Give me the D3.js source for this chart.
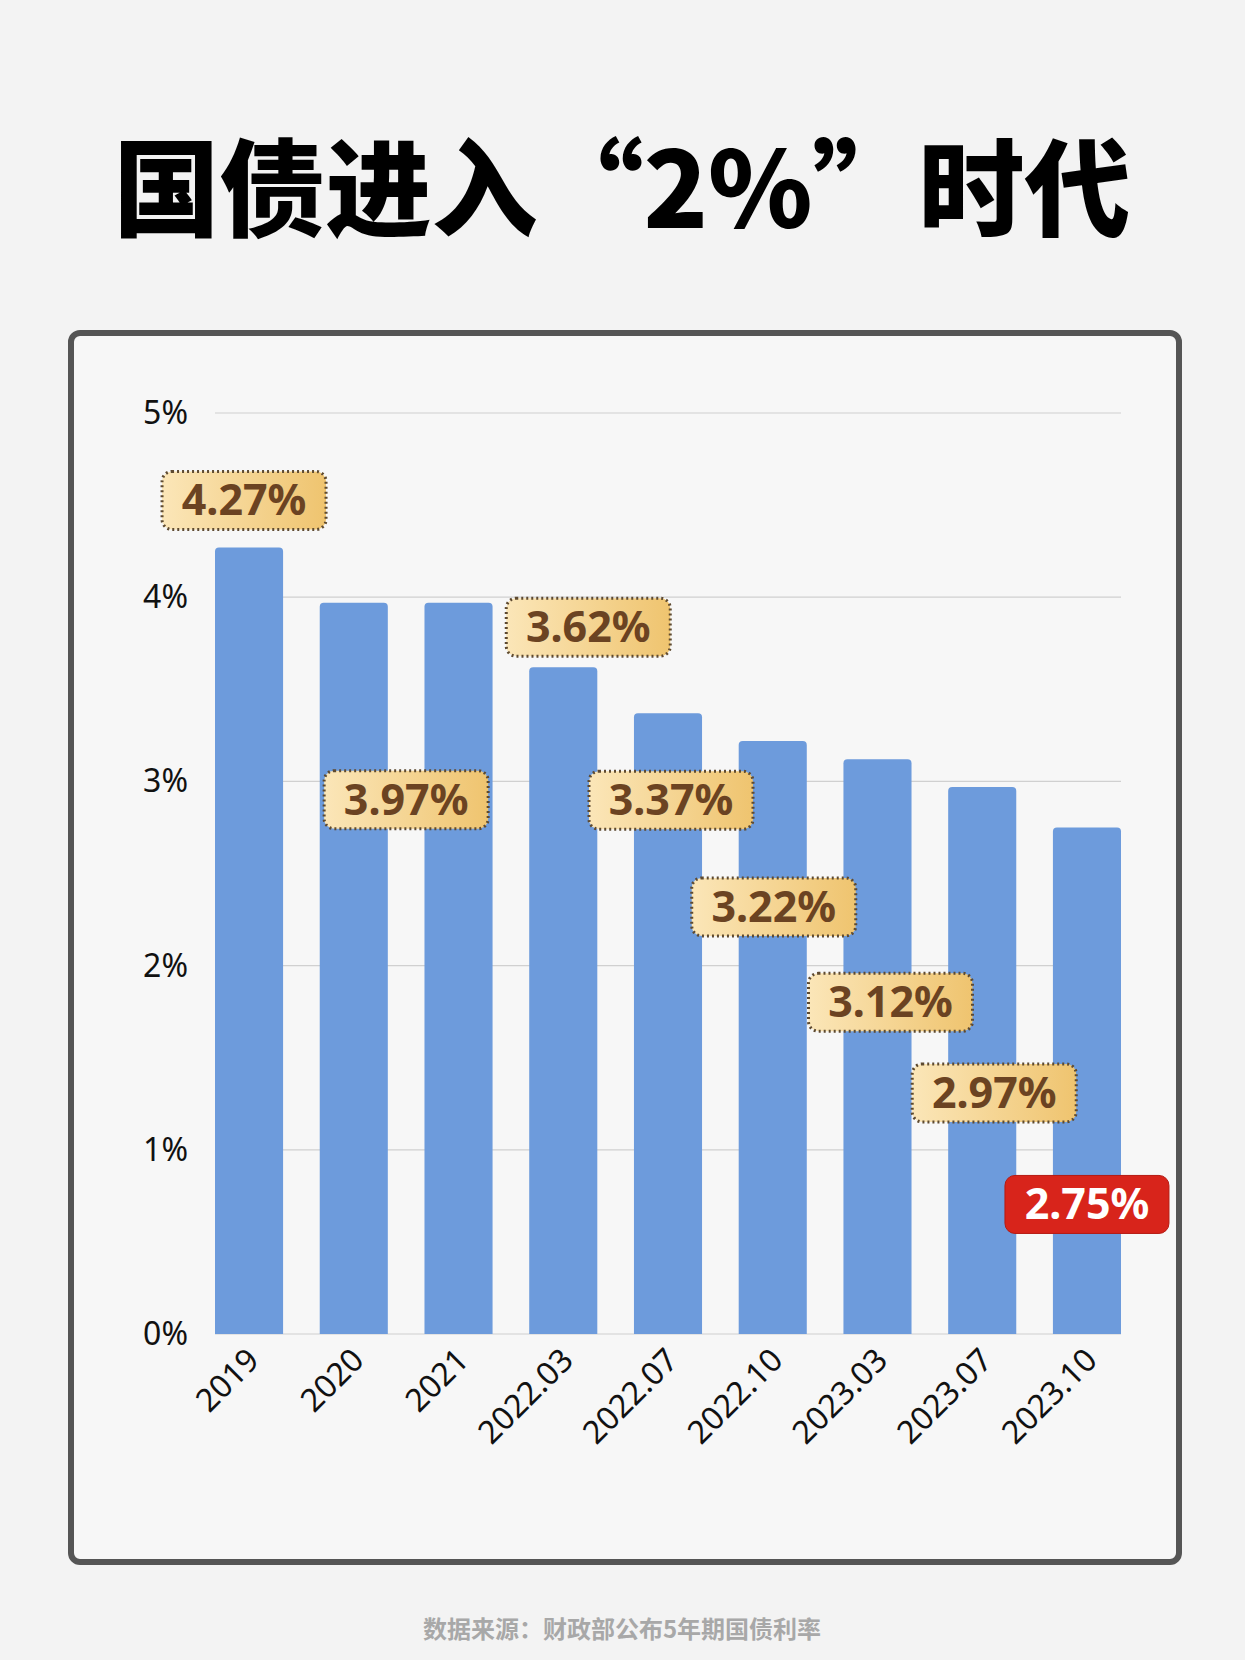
<!DOCTYPE html>
<html><head><meta charset="utf-8">
<script src="https://cdn.jsdelivr.net/npm/d3@7"></script>
<style>body{margin:0;background:#f2f2f2;}svg{display:block;}</style>
</head><body><div id="chart"></div>
<script>
// --- data ---
var categories = ['2019','2020','2021','2022.03','2022.07','2022.10','2023.03','2023.07','2023.10'];
var rates = [4.27,3.97,3.97,3.62,3.37,3.22,3.12,2.97,2.75];
var yTicks = [0,1,2,3,4,5];
var labelTexts = ['4.27%','3.97%','3.62%','3.37%','3.22%','3.12%','2.97%','2.75%'];
var labelValues = [4.27,3.97,3.62,3.37,3.22,3.12,2.97,2.75];

// label placement (bar index it sits on, x/y offset in px from bar top)
var labelPos = [[0,-5,-47],[1.5,0,197],[3,25,-40],[4,3,87],[5,1,166],[6,13,243],[7,12,306],[8,0,377]];

var W = 1245, H = 1660;
var svg = d3.select('#chart').append('svg').attr('width', W).attr('height', H);
var defs = svg.append('defs');
var grad = defs.append('linearGradient').attr('id','gold');
grad.append('stop').attr('offset','0%').attr('stop-color','#fbe6b8');
grad.append('stop').attr('offset','100%').attr('stop-color','#efc46f');

svg.append('rect').attr('width', W).attr('height', H).attr('fill', '#f3f3f3');

svg.append('text')
    .attr('x', 622).attr('y', 228)
    .attr('text-anchor', 'middle')
    .attr('font-family', 'Noto Sans CJK SC')
    .attr('font-weight', 900)
    .attr('font-size', 106)
    .attr('fill', '#000')
    .text('国债进入“2%”时代');

svg.append('rect')
    .attr('x', 71).attr('y', 333).attr('width', 1108).attr('height', 1229)
    .attr('rx', 9)
    .attr('fill', '#f7f7f7').attr('stroke', '#555').attr('stroke-width', 6);

var x = d3.scaleBand().domain(categories).range([215, 1121]).paddingInner(0.35).paddingOuter(0);
var y = d3.scaleLinear().domain([0, 5]).range([1334, 413]);

var grid = svg.append('g');
grid.selectAll('line').data(yTicks).join('line')
    .attr('x1', 215).attr('x2', 1121)
    .attr('y1', function (d) { return y(d); }).attr('y2', function (d) { return y(d); })
    .attr('stroke', '#d0d0d0').attr('stroke-width', 1.2);

svg.append('g').selectAll('text').data(yTicks).join('text')
    .attr('x', 188).attr('y', function (d) { return y(d) + 11; })
    .attr('text-anchor', 'end')
    .attr('font-family', 'Noto Sans').attr('font-size', 32).attr('fill', '#111')
    .text(function (d) { return d + '%'; });

svg.append('g').selectAll('path').data(rates).join('path')
    .attr('fill', '#6d9bdc')
    .attr('d', function (d, i) {
        var x0 = x(categories[i]), w = x.bandwidth(), y0 = y(d), y1 = y(0), r = 4;
        return 'M' + x0 + ',' + y1 + 'V' + (y0 + r) + 'Q' + x0 + ',' + y0 + ' ' + (x0 + r) + ',' + y0 +
            'H' + (x0 + w - r) + 'Q' + (x0 + w) + ',' + y0 + ' ' + (x0 + w) + ',' + (y0 + r) + 'V' + y1 + 'Z';
    });

svg.append('g').selectAll('text').data(categories).join('text')
    .attr('transform', function (d) {
        return 'translate(' + (x(d) + x.bandwidth() / 2 + 12) + ',' + 1362 + ') rotate(-45)';
    })
    .attr('text-anchor', 'end')
    .attr('font-family', 'Noto Sans').attr('font-size', 32).attr('fill', '#111')
    .text(function (d) { return d; });

var step = x.step();
var lab = svg.append('g').selectAll('g').data(labelTexts).join('g')
    .attr('transform', function (d, i) {
        var p = labelPos[i];
        var cx = x(categories[0]) + x.bandwidth() / 2 + p[0] * step + p[1];
        var cy = y(labelValues[i]) + p[2];
        return 'translate(' + cx + ',' + cy + ')';
    });
lab.append('rect')
    .attr('x', -82).attr('y', -29).attr('width', 164).attr('height', 58).attr('rx', 10)
    .attr('fill', function (d, i) { return i === labelTexts.length - 1 ? '#d8241b' : 'url(#gold)'; })
    .attr('stroke', function (d, i) { return i === labelTexts.length - 1 ? '#b51a12' : '#5e4a30'; })
    .attr('stroke-width', function (d, i) { return i === labelTexts.length - 1 ? 1 : 3; })
    .attr('stroke-dasharray', function (d, i) { return i === labelTexts.length - 1 ? null : '2,3'; });
lab.append('text')
    .attr('y', 15).attr('text-anchor', 'middle')
    .attr('font-family', 'Noto Sans').attr('font-weight', 'bold').attr('font-size', 43)
    .attr('fill', function (d, i) { return i === labelTexts.length - 1 ? '#fff' : '#6b4322'; })
    .text(function (d) { return d; });

svg.append('text')
    .attr('x', 622).attr('y', 1638).attr('text-anchor', 'middle')
    .attr('font-family', 'Noto Sans CJK SC').attr('font-weight', 'bold').attr('font-size', 24)
    .attr('fill', '#a8a8a8')
    .text('数据来源：财政部公布5年期国债利率');
</script></body></html>
